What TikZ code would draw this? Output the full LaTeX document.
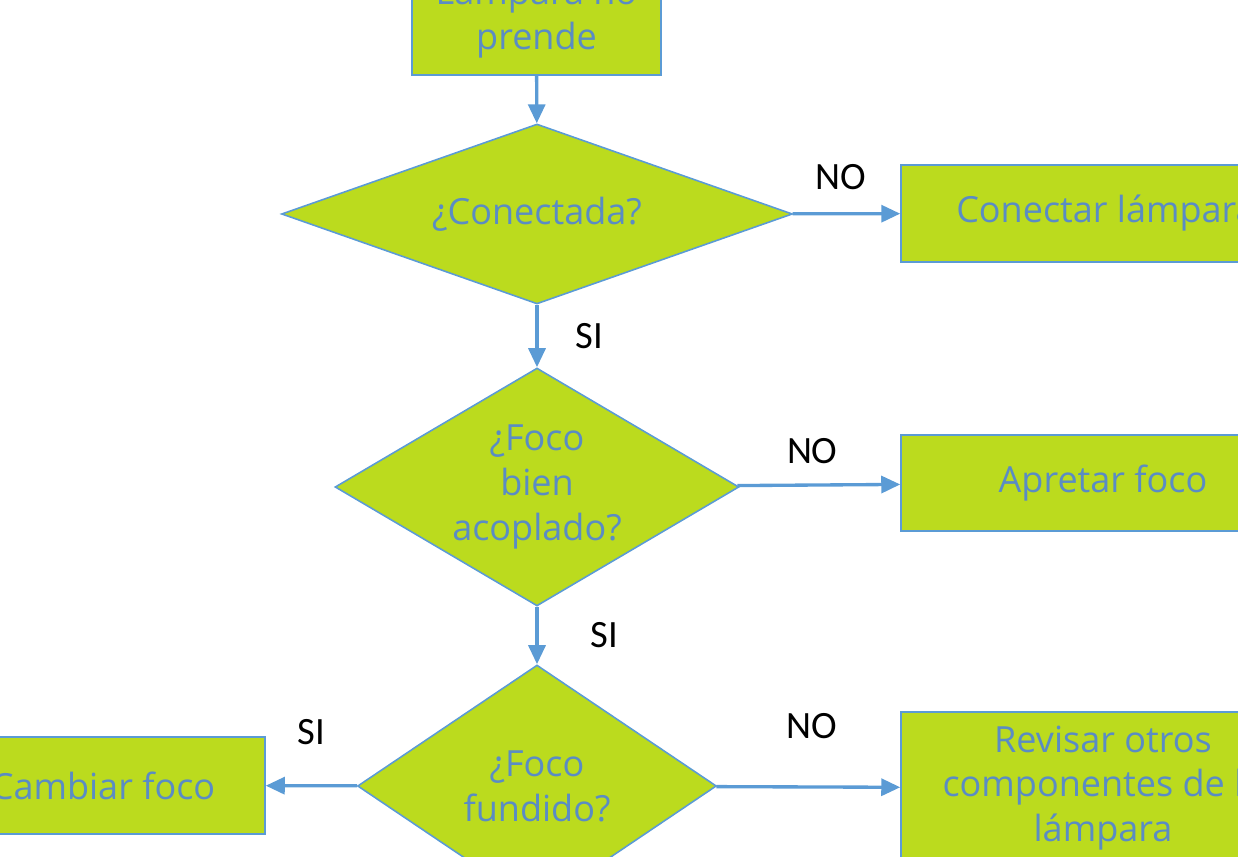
\documentclass[tikz,border=0pt]{standalone}
\usepackage{fontspec}
\setmainfont{Open Sans}
\newfontfamily\labelfont{Carlito}
\usetikzlibrary{shapes,arrows.meta}
\definecolor{limefill}{RGB}{187,219,30}
\definecolor{lineblue}{RGB}{91,155,213}
\definecolor{textblue}{RGB}{90,140,196}
\begin{document}
\begin{tikzpicture}[x=0.02cm, y=-0.02cm,
      process/.style={rectangle, draw=lineblue, line width=0.9pt, fill=limefill, text=textblue,
        align=center, inner sep=0pt, font=\fontsize{20.5}{25.5}\selectfont},
      decision/.style={diamond, draw=lineblue, line width=0.9pt, fill=limefill, text=textblue,
        align=center, inner sep=0pt, font=\fontsize{20.5}{25.5}\selectfont},
      answer/.style={text=black, font=\labelfont\fontsize{22}{24}\selectfont},
      flow/.style={draw=lineblue, line width=1.9pt, -{Triangle[length=0.38cm, width=0.34cm]}}]
      \useasboundingbox (0,0) rectangle (1238,857);
      \clip (0,0) rectangle (1238,857);
      \node[process, minimum width=4.98cm, minimum height=2.3cm](start) at (536.5, 17.5){Lámpara no\\prende};
      \node[decision, shape aspect=2.84, minimum width=10.22cm, minimum height=3.6cm](connected) at (537, 214){¿Conectada?};
      \node[process, minimum width=8.2cm, minimum height=1.94cm](plug) at (1106, 213.5){Conectar lámpara};
      \node[decision, shape aspect=1.7, minimum width=8.08cm, minimum height=4.76cm](fitted) at (537, 487){¿Foco\\bien\\acoplado?};
      \node[process, minimum width=8.08cm, minimum height=1.92cm](tighten) at (1103, 483){Apretar foco};
      \node[decision, shape aspect=1.48, minimum width=7.18cm, minimum height=4.84cm](blown) at (537, 786){¿Foco\\fundido?};
      \node[process, minimum width=6.48cm, minimum height=1.94cm](change) at (103, 785.5){Cambiar foco};
      \node[process, minimum width=8.08cm, minimum height=3.04cm](check) at (1103, 788){Revisar otros\\componentes de la\\lámpara};
      \draw[flow] (start) -- (connected);
      \draw[flow] (connected) -- node[answer, above=0.32cm, pos=0.45] {NO} (plug);
      \draw[flow] (connected) -- node[answer, right=0.62cm] {SI} (fitted);
      \draw[flow] (fitted) -- node[answer, above=0.28cm, pos=0.46] {NO} (tighten);
      \draw[flow] (fitted) -- node[answer, right=0.92cm] {SI} (blown);
      \draw[flow] (blown) -- node[answer, above=0.66cm] {SI} (change);
      \draw[flow] (blown) -- node[answer, above=0.82cm, pos=0.52] {NO} (check);
    \end{tikzpicture}
\end{document}
